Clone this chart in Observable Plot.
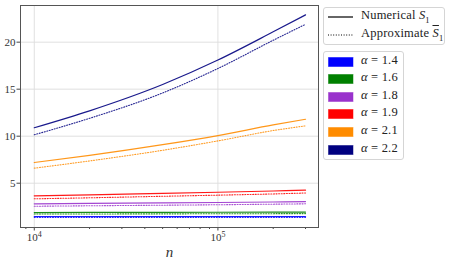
<!DOCTYPE html>
<html>
<head>
<meta charset="utf-8">
<script src="https://cdn.jsdelivr.net/npm/d3@7"></script>
<script src="https://cdn.jsdelivr.net/npm/@observablehq/plot@0.6"></script>
<style>
  body { margin: 0; background: #fff; }
  #wrap { position: relative; width: 450px; height: 263px; font-family: "Liberation Serif", serif; }
  .lbox { position: absolute; border: 1px solid #d5d5d5; border-radius: 3px; background: rgba(255,255,255,0.8); box-sizing: border-box; }
  .row { position: absolute; left: 0; font-size: 12.5px; color: #222; white-space: nowrap; letter-spacing: 0.2px; }
  .row .txt { position: absolute; left: 37px; top: -9px; }
  .row svg { position: absolute; left: 4px; top: -5px; }
  .row sub { font-size: 8.5px; }
</style>
</head>
<body>
<div id="wrap"></div>
<script>
// ---- data ----
const nValues = [1e4, 2e4, 5e4, 1e5, 2e5, 3e5];
const alphas = [1.4, 1.6, 1.8, 1.9, 2.1, 2.2];
const colors = ["#0000ff", "#008000", "#9932cc", "#ff0000", "#ff8c00", "#000080"];
const numerical = {
  1.4: [1.46, 1.46, 1.46, 1.46, 1.46, 1.46],
  1.6: [1.88, 1.89, 1.9, 1.91, 1.92, 1.93],
  1.8: [2.81, 2.85, 2.91, 2.95, 3.0, 3.05],
  1.9: [3.66, 3.76, 3.92, 4.04, 4.17, 4.26],
  2.1: [7.2, 7.96, 9.1, 10.07, 11.2, 11.8],
  2.2: [10.9, 12.7, 15.5, 18.1, 21.1, 22.9]
};
const approximate = {
  1.4: [1.35, 1.35, 1.35, 1.35, 1.35, 1.35],
  1.6: [1.72, 1.73, 1.74, 1.75, 1.76, 1.77],
  1.8: [2.55, 2.6, 2.66, 2.71, 2.77, 2.81],
  1.9: [3.34, 3.45, 3.61, 3.73, 3.86, 3.96],
  2.1: [6.6, 7.37, 8.5, 9.5, 10.6, 11.1],
  2.2: [10.15, 11.9, 14.6, 17.2, 20.2, 21.9]
};
const yTicks = [5, 10, 15, 20];
const xMajorTicks = [1e4, 1e5];
const xMinorTicks = [9e3, 2e4, 3e4, 4e4, 5e4, 6e4, 7e4, 8e4, 9e4, 2e5, 3e5];

// ---- table ----
const rows = [];
alphas.forEach((a, i) => {
  nValues.forEach((n, j) => {
    rows.push({alpha: a, n, v: numerical[a][j], kind: "num"});
    rows.push({alpha: a, n, v: approximate[a][j], kind: "app"});
  });
});
const colorOf = a => colors[alphas.indexOf(a)];

const chart = Plot.plot({
  width: 450,
  height: 263,
  marginLeft: 20,
  marginRight: 132,
  marginTop: 5,
  marginBottom: 36,
  style: {fontFamily: "'Liberation Serif', serif", fontSize: "11px", color: "#333", background: "transparent"},
  x: {type: "log", domain: [8414, 353000]},
  y: {domain: [0.29, 23.9]},
  marks: [
    Plot.gridY(yTicks, {stroke: "#dcdcdc", strokeOpacity: 1, strokeWidth: 0.9}),
    Plot.gridX(xMajorTicks, {stroke: "#dcdcdc", strokeOpacity: 1, strokeWidth: 0.9}),
    Plot.axisY({ticks: yTicks, tickSize: 3.5, tickPadding: 1.5, label: null, stroke: "#444"}),
    Plot.axisX({ticks: xMajorTicks, tickSize: 3.5, tickPadding: 2, label: null, stroke: "#444",
      tickFormat: d => "10^" + Math.round(Math.log10(d))}),
    Plot.axisX({ticks: xMinorTicks, tickSize: 2, tickFormat: () => "", label: null, stroke: "#444"}),
    Plot.axisX({ticks: [], label: "n", labelAnchor: "center", labelArrow: "none", labelOffset: 29,
      fontStyle: "italic", fontSize: 15}),
    ...alphas.map(a => Plot.line(rows.filter(r => r.alpha === a && r.kind === "num"), {
      x: "n", y: "v", stroke: colorOf(a), strokeWidth: 1.2, strokeOpacity: 0.9, curve: "monotone-x"})),
    ...alphas.map(a => Plot.line(rows.filter(r => r.alpha === a && r.kind === "app"), {
      x: "n", y: "v", stroke: colorOf(a), strokeWidth: 1.1, strokeOpacity: 0.85, strokeDasharray: "1,1.6", curve: "monotone-x"})),
    Plot.frame({stroke: "#555", strokeWidth: 1})
  ]
});
const wrap = document.getElementById("wrap");
wrap.appendChild(chart);

// superscript exponents on log tick labels
d3.select(chart).selectAll("text").each(function () {
  const t = this.textContent;
  if (/^10\^\d$/.test(t)) {
    const [base, exp] = t.split("^");
    const sel = d3.select(this);
    sel.text("");
    sel.append("tspan").text(base);
    sel.append("tspan").attr("dy", "-0.45em").attr("font-size", "8px").text(exp);
  }
});

// ---- legends (HTML) ----
function box(left, top, w, h) {
  const b = document.createElement("div");
  b.className = "lbox";
  Object.assign(b.style, {left: left + "px", top: top + "px", width: w + "px", height: h + "px"});
  wrap.appendChild(b);
  return b;
}
function row(b, y, sample, html) {
  const r = document.createElement("div");
  r.className = "row";
  r.style.top = y + "px";
  r.innerHTML = sample + `<span class="txt">${html}</span>`;
  b.appendChild(r);
}
const b1 = box(323, 6.5, 122, 38.5);
row(b1, 9.3, `<svg width="26" height="10"><line x1="0" x2="25" y1="5" y2="5" stroke="#000" stroke-width="1.2"/></svg>`,
  `Numerical&nbsp;<i>S</i><sub>1</sub>`);
row(b1, 27.3, `<svg width="26" height="10"><line x1="0" x2="25" y1="5" y2="5" stroke="#000" stroke-width="1" stroke-dasharray="1,1.6"/></svg>`,
  `Approximate&nbsp;<i style="text-decoration:overline">S</i><sub>1</sub>`);

const b2 = box(323, 50.5, 81, 109.5);
alphas.forEach((a, i) => {
  row(b2, 10 + i * 17.65,
    `<svg width="26" height="10"><rect x="0.5" y="0.5" width="24.5" height="9" fill="${colors[i]}" stroke="${colors[i]}" stroke-opacity="0.5"/></svg>`,
    `<i>α</i>&nbsp;=&nbsp;${a}`);
});
</script>
</body>
</html>
